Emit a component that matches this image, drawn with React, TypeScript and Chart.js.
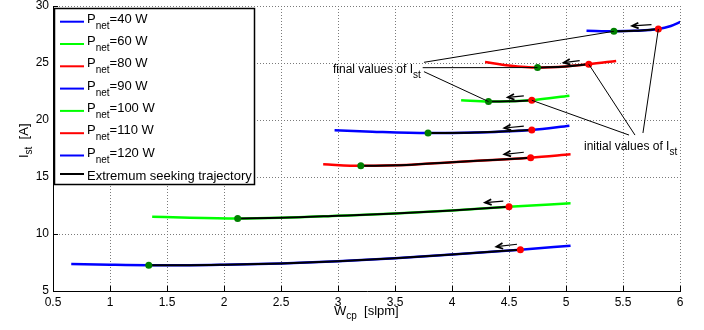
import React, { useEffect, useRef } from 'react';
import { Chart, registerables } from 'chart.js';

Chart.register(...registerables);

const FONT = '"Liberation Sans", Arial, Helvetica, sans-serif';

const xTicks = [0.5, 1, 1.5, 2, 2.5, 3, 3.5, 4, 4.5, 5, 5.5, 6];
const xTickLabels = ['0.5', '1', '1.5', '2', '2.5', '3', '3.5', '4', '4.5', '5', '5.5', '6'];
const yTicks = [5, 10, 15, 20, 25, 30];
const yTickLabels = ['5', '10', '15', '20', '25', '30'];

// Curves I_st(W_cp) for each P_net
const p40X = [0.66, 1.0, 1.34, 1.7, 2.0, 2.5, 3.0, 3.5, 4.0, 4.6, 5.04];
const p40Y = [7.37, 7.3, 7.26, 7.26, 7.3, 7.42, 7.62, 7.88, 8.2, 8.62, 8.97];
const p60X = [1.37, 1.7, 2.12, 2.5, 3.0, 3.5, 4.0, 4.5, 5.04];
const p60Y = [11.52, 11.42, 11.36, 11.42, 11.6, 11.8, 12.06, 12.39, 12.69];
const p80X = [2.87, 3.2, 3.6, 4.0, 4.4, 4.69, 5.04];
const p80Y = [16.11, 15.98, 16.05, 16.3, 16.52, 16.69, 16.99];
const p90X = [2.97, 3.3, 3.79, 4.2, 4.7, 5.03];
const p90Y = [19.1, 18.97, 18.85, 18.9, 19.12, 19.5];
const p100X = [4.08, 4.32, 4.5, 4.7, 5.03];
const p100Y = [21.73, 21.62, 21.64, 21.73, 22.13];
const p110X = [4.29, 4.5, 4.75, 5.0, 5.2, 5.44];
const p110Y = [25.09, 24.78, 24.6, 24.7, 24.89, 25.18];
const p120X = [5.18, 5.42, 5.6, 5.81, 5.92, 6.01];
const p120Y = [27.83, 27.78, 27.82, 27.98, 28.25, 28.62];

// Extremum seeking trajectories (from initial to final value)
const t40X = [1.34, 1.7, 2.0, 2.5, 3.0, 3.5, 4.0, 4.6];
const t40Y = [7.26, 7.26, 7.3, 7.42, 7.62, 7.88, 8.2, 8.62];
const t60X = [2.12, 2.5, 3.0, 3.5, 4.0, 4.5];
const t60Y = [11.36, 11.42, 11.6, 11.8, 12.06, 12.39];
const t80X = [3.2, 3.6, 4.0, 4.4, 4.69];
const t80Y = [15.98, 16.05, 16.3, 16.52, 16.69];
const t90X = [3.79, 4.2, 4.7];
const t90Y = [18.85, 18.9, 19.12];
const t100X = [4.32, 4.5, 4.7];
const t100Y = [21.62, 21.64, 21.73];
const t110X = [4.75, 5.0, 5.2];
const t110Y = [24.6, 24.7, 24.89];
const t120X = [5.42, 5.6, 5.81];
const t120Y = [27.78, 27.82, 27.98];

const pnetValues = [40, 60, 80, 90, 100, 110, 120];
const seriesColors = ['#0000ff', '#00ff00', '#ff0000', '#0000ff', '#00ff00', '#ff0000', '#0000ff'];
const curveX = [p40X, p60X, p80X, p90X, p100X, p110X, p120X];
const curveY = [p40Y, p60Y, p80Y, p90Y, p100Y, p110Y, p120Y];
const trajX = [t40X, t60X, t80X, t90X, t100X, t110X, t120X];
const trajY = [t40Y, t60Y, t80Y, t90Y, t100Y, t110Y, t120Y];

const initialX = [4.6, 4.5, 4.69, 4.7, 4.7, 5.2, 5.81];
const initialY = [8.62, 12.39, 16.69, 19.12, 21.73, 24.89, 27.98];
const finalX = [1.34, 2.12, 3.2, 3.79, 4.32, 4.75, 5.42];
const finalY = [7.26, 11.36, 15.98, 18.85, 21.62, 24.6, 27.78];

const arrowTailX = [4.57, 4.45, 4.63, 4.63, 4.63, 5.12, 5.75];
const arrowTailY = [9.1, 12.89, 17.17, 19.47, 22.11, 25.2, 28.36];
const arrowHeadX = [4.39, 4.29, 4.46, 4.46, 4.49, 4.98, 5.58];
const arrowHeadY = [8.89, 12.75, 16.99, 19.3, 21.99, 25.03, 28.25];

// Annotations
const finalText = 'final values of I';
const finalTextPos = [2.956, 24.12];
const finalLineStartX = [3.754, 3.743, 3.754];
const finalLineStartY = [25.06, 24.59, 24.24];
const finalLineTarget = [6, 5, 4]; // indices into final points
const initialText = 'initial values of I';
const initialTextPos = [5.158, 17.37];
const initialLineEndX = [5.553, 5.605, 5.675];
const initialLineEndY = [18.68, 18.68, 18.86];
const initialLineSource = [4, 5, 6];

const pts = (xs: number[], ys: number[]) => xs.map((x, i) => ({ x, y: ys[i] }));

function drawRich(ctx: CanvasRenderingContext2D, x: number, y: number, parts: Array<[string, boolean]>, size: number, subSize: number, subDy: number) {
  let cx = x;
  for (const [t, sub] of parts) {
    ctx.font = `${sub ? subSize : size}px ${FONT}`;
    ctx.fillText(t, cx, sub ? y + subDy : y);
    cx += ctx.measureText(t).width;
  }
  return cx;
}

const overlayPlugin = {
  id: 'overlay',
  beforeDatasetsDraw(chart: any) {
    const { ctx, chartArea } = chart;
    const xs = chart.scales.x;
    const ys = chart.scales.y;
    ctx.save();
    ctx.strokeStyle = '#7a7a7a';
    ctx.lineWidth = 1;
    ctx.setLineDash([1, 2]);
    ctx.beginPath();
    xTicks.forEach((v) => {
      const px = Math.round(xs.getPixelForValue(v)) + 0.5;
      ctx.moveTo(px, Math.round(chartArea.top));
      ctx.lineTo(px, Math.round(chartArea.bottom));
    });
    yTicks.forEach((v) => {
      const py = Math.round(ys.getPixelForValue(v)) + 0.5;
      ctx.moveTo(Math.round(chartArea.left), py);
      ctx.lineTo(Math.round(chartArea.right) + 1, py);
    });
    ctx.stroke();
    ctx.setLineDash([]);
    // solid left and bottom axes
    ctx.strokeStyle = '#000';
    ctx.beginPath();
    const lx = Math.round(chartArea.left) + 0.5;
    const by = Math.round(chartArea.bottom) + 0.5;
    ctx.moveTo(lx, chartArea.top);
    ctx.lineTo(lx, by);
    ctx.lineTo(chartArea.right + 1, by);
    ctx.stroke();
    ctx.restore();
  },
  afterDatasetsDraw(chart: any) {
    const { ctx, chartArea } = chart;
    const xs = chart.scales.x;
    const ys = chart.scales.y;
    ctx.save();
    // inward ticks
    ctx.strokeStyle = '#000';
    ctx.lineWidth = 1;
    ctx.beginPath();
    xTicks.forEach((v) => {
      const px = Math.round(xs.getPixelForValue(v)) + 0.5;
      ctx.moveTo(px, chartArea.bottom);
      ctx.lineTo(px, chartArea.bottom - 5);
    });
    yTicks.forEach((v) => {
      const py = Math.round(ys.getPixelForValue(v)) + 0.5;
      ctx.moveTo(chartArea.left, py);
      ctx.lineTo(chartArea.left + 5, py);
    });
    ctx.stroke();

    // arrows
    ctx.strokeStyle = '#000';
    ctx.fillStyle = '#000';
    for (let i = 0; i < arrowTailX.length; i++) {
      const x1 = xs.getPixelForValue(arrowTailX[i]);
      const y1 = ys.getPixelForValue(arrowTailY[i]);
      const x2 = xs.getPixelForValue(arrowHeadX[i]);
      const y2 = ys.getPixelForValue(arrowHeadY[i]);
      ctx.lineWidth = 1.2;
      ctx.beginPath();
      ctx.moveTo(x1, y1);
      ctx.lineTo(x2, y2);
      ctx.stroke();
      const ang = Math.atan2(y2 - y1, x2 - x1);
      const L = 7;
      const a = 0.42;
      ctx.lineWidth = 1.8;
      ctx.beginPath();
      ctx.moveTo(x2 - L * Math.cos(ang - a), y2 - L * Math.sin(ang - a));
      ctx.lineTo(x2, y2);
      ctx.lineTo(x2 - L * Math.cos(ang + a), y2 - L * Math.sin(ang + a));
      ctx.stroke();
    }

    // annotation lines
    ctx.lineWidth = 1;
    ctx.strokeStyle = '#000';
    ctx.beginPath();
    for (let i = 0; i < finalLineStartX.length; i++) {
      const k = finalLineTarget[i];
      ctx.moveTo(xs.getPixelForValue(finalLineStartX[i]), ys.getPixelForValue(finalLineStartY[i]));
      ctx.lineTo(xs.getPixelForValue(finalX[k]), ys.getPixelForValue(finalY[k]));
    }
    for (let i = 0; i < initialLineEndX.length; i++) {
      const k = initialLineSource[i];
      ctx.moveTo(xs.getPixelForValue(initialX[k]), ys.getPixelForValue(initialY[k]));
      ctx.lineTo(xs.getPixelForValue(initialLineEndX[i]), ys.getPixelForValue(initialLineEndY[i]));
    }
    ctx.stroke();

    // annotation texts
    ctx.fillStyle = '#000';
    ctx.textAlign = 'left';
    ctx.textBaseline = 'alphabetic';
    drawRich(ctx, xs.getPixelForValue(finalTextPos[0]), ys.getPixelForValue(finalTextPos[1]),
      [[finalText, false], ['st', true]], 12, 10, 5);
    drawRich(ctx, xs.getPixelForValue(initialTextPos[0]), ys.getPixelForValue(initialTextPos[1]),
      [[initialText, false], ['st', true]], 12, 10, 5);
    ctx.restore();
  },
  afterDraw(chart: any) {
    const { ctx, chartArea } = chart;
    ctx.save();
    // legend
    const lx = chartArea.left + 1;
    const ly = chartArea.top + 2;
    const lw = 200;
    const lh = 176;
    ctx.fillStyle = '#fff';
    ctx.fillRect(lx, ly, lw, lh);
    ctx.strokeStyle = '#000';
    ctx.lineWidth = 1.5;
    ctx.strokeRect(lx + 0.5, ly + 0.5, lw, lh);
    ctx.textAlign = 'left';
    ctx.textBaseline = 'alphabetic';
    for (let i = 0; i < pnetValues.length; i++) {
      const yy = ly + 13.7 + 22.3 * i;
      ctx.strokeStyle = seriesColors[i];
      ctx.lineWidth = 2;
      ctx.beginPath();
      ctx.moveTo(lx + 6, yy);
      ctx.lineTo(lx + 30, yy);
      ctx.stroke();
      ctx.fillStyle = '#000';
      drawRich(ctx, lx + 33, yy + 1, [['P', false], ['net', true], [`=${pnetValues[i]} W`, false]], 13, 10, 6);
    }
    const yb = ly + 166;
    ctx.strokeStyle = '#000';
    ctx.lineWidth = 2;
    ctx.beginPath();
    ctx.moveTo(lx + 6, yb);
    ctx.lineTo(lx + 30, yb);
    ctx.stroke();
    ctx.fillStyle = '#000';
    ctx.font = `13px ${FONT}`;
    ctx.fillText('Extremum seeking trajectory', lx + 33, yb + 5.5);

    // axis titles
    drawRich(ctx, 334, 315, [['W', false], ['cp', true], ['  [slpm]', false]], 13, 10, 4);
    ctx.translate(27.5, 158);
    ctx.rotate(-Math.PI / 2);
    drawRich(ctx, 0, 0, [['I', false], ['st', true], ['  [A]', false]], 13, 10, 4);
    ctx.restore();
  },
};

export default function App() {
  const ref = useRef<HTMLCanvasElement>(null);
  useEffect(() => {
    const canvas = ref.current!;
    const datasets: any[] = [];
    datasets.push({
      label: 'initial', data: pts(initialX, initialY), showLine: false,
      pointRadius: 3.5, pointBackgroundColor: '#ff0000', pointBorderWidth: 0, order: 1,
    });
    datasets.push({
      label: 'final', data: pts(finalX, finalY), showLine: false,
      pointRadius: 3.5, pointBackgroundColor: '#008000', pointBorderWidth: 0, order: 1,
    });
    for (let i = 0; i < trajX.length; i++) {
      datasets.push({
        label: 'traj' + i, data: pts(trajX[i], trajY[i]), borderColor: '#000', borderWidth: 2,
        pointRadius: 0, cubicInterpolationMode: 'monotone', fill: false, order: 2,
      });
    }
    for (let i = 0; i < curveX.length; i++) {
      datasets.push({
        label: `Pnet=${pnetValues[i]} W`, data: pts(curveX[i], curveY[i]), borderColor: seriesColors[i],
        borderWidth: 2.5, pointRadius: 0, cubicInterpolationMode: 'monotone', fill: false, order: 3,
      });
    }
    const chart = new Chart(canvas, {
      type: 'line',
      data: { datasets },
      options: {
        responsive: false,
        animation: false,
        devicePixelRatio: 1,
        layout: { padding: { left: 0, top: 6, right: 24, bottom: 0 } },
        plugins: { legend: { display: false }, tooltip: { enabled: false } },
        scales: {
          x: {
            type: 'linear', min: 0.5, max: 6,
            afterBuildTicks: (s: any) => { s.ticks = xTicks.map((v) => ({ value: v })); },
            afterFit: (s: any) => { s.height = 39; s.paddingLeft = 0; s.paddingRight = 0; },
            ticks: {
              font: { family: FONT, size: 12, lineHeight: 1 }, color: '#000', padding: 6,
              maxRotation: 0, autoSkip: false,
              callback: (_v: any, i: number) => xTickLabels[i],
            },
            grid: { display: false, drawTicks: false },
            border: { display: false },
          },
          y: {
            type: 'linear', min: 5, max: 30,
            afterBuildTicks: (s: any) => { s.ticks = yTicks.map((v) => ({ value: v })); },
            afterFit: (s: any) => { s.width = 53; s.paddingTop = 0; s.paddingBottom = 0; },
            ticks: {
              font: { family: FONT, size: 12, lineHeight: 1 }, color: '#000', padding: 4,
              autoSkip: false,
              callback: (_v: any, i: number) => yTickLabels[i],
            },
            grid: { display: false, drawTicks: false },
            border: { display: false },
          },
        },
      },
      plugins: [overlayPlugin],
    } as any);
    return () => chart.destroy();
  }, []);
  return (
    <div style={{ position: 'absolute', left: 0, top: 0, width: 704, height: 330, background: '#fff' }}>
      <canvas ref={ref} width={704} height={330} style={{ width: 704, height: 330, display: 'block' }} />
    </div>
  );
}
